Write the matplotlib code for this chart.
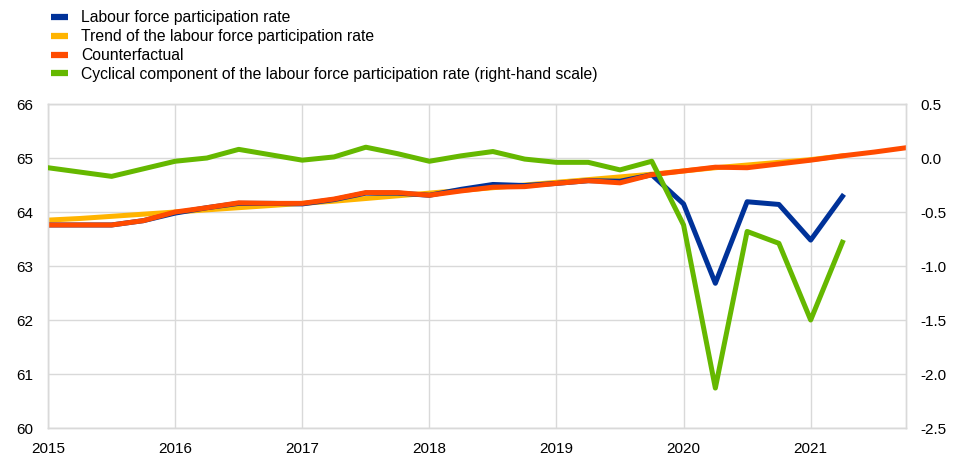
import numpy as np
import matplotlib.pyplot as plt
from matplotlib.lines import Line2D

plt.rcParams['font.family'] = ['Liberation Sans', 'DejaVu Sans']

# quarterly observations, 2015Q1 .. 2021Q4
quarters = 2015 + np.arange(28) * 0.25

lfpr = [63.76, 63.76, 63.76, 63.84, 63.98, 64.08, 64.16, 64.16, 64.15, 64.23,
        64.35, 64.35, 64.31, 64.42, 64.51, 64.49, 64.53, 64.58, 64.57, 64.69,
        64.15, 62.68, 64.19, 64.14, 63.48, 64.29]
trend = [63.85, 63.88, 63.92, 63.96, 64.00, 64.04, 64.08, 64.12, 64.16, 64.20,
         64.25, 64.30, 64.35, 64.40, 64.45, 64.50, 64.55, 64.60, 64.65, 64.70,
         64.76, 64.82, 64.87, 64.92, 64.97, 65.04]
counterfactual = [63.76, 63.76, 63.76, 63.84, 64.00, 64.08, 64.17, 64.16, 64.16, 64.24,
                  64.36, 64.36, 64.31, 64.39, 64.46, 64.47, 64.53, 64.58, 64.54, 64.69,
                  64.76, 64.83, 64.82, 64.89, 64.96, 65.04, 65.11, 65.19]
cyclical = [-0.09, -0.13, -0.17, -0.10, -0.03, 0.00, 0.08, 0.03, -0.02, 0.01,
            0.10, 0.04, -0.03, 0.02, 0.06, -0.01, -0.04, -0.04, -0.11, -0.03,
            -0.62, -2.13, -0.68, -0.79, -1.50, -0.78]

labels = ['Labour force participation rate',
          'Trend of the labour force participation rate',
          'Counterfactual',
          'Cyclical component of the labour force participation rate (right-hand scale)']
colors = ['#003299', '#FFB400', '#FF4B00', '#65B800']
years = list(range(2015, 2022))

fig = plt.figure(figsize=(9.55, 4.59), dpi=100)
ax = fig.add_axes([0.0503, 0.0675, 0.8984, 0.7059])
ax2 = ax.twinx()

lw = 3.6
ax.plot(quarters[:len(lfpr)], lfpr, color=colors[0], lw=lw, zorder=3)
ax.plot(quarters[:len(trend)], trend, color=colors[1], lw=lw, zorder=2)
ax.plot(quarters, counterfactual, color=colors[2], lw=lw, zorder=4)
ax2.plot(quarters[:len(cyclical)], cyclical, color=colors[3], lw=lw, zorder=5)

ax.set_xlim(2015, 2021.75)
ax.set_ylim(60, 66)
ax2.set_ylim(-2.5, 0.5)
ax.set_xticks(years)
ax.set_xticklabels([str(y) for y in years])
ax.set_yticks(range(60, 67))
r_ticks = np.arange(-2.5, 0.51, 0.5)
ax2.set_yticks(r_ticks)
ax2.set_yticklabels(['%.1f' % v for v in r_ticks])

grid_c = '#d9d9d9'
ax.grid(True, color=grid_c, lw=1)
ax.set_axisbelow(True)
for a in (ax, ax2):
    for s in a.spines.values():
        s.set_color(grid_c)
        s.set_linewidth(1)
    a.tick_params(length=0, labelsize=11, colors='#000000')
ax.tick_params(axis='x', pad=10)
ax.tick_params(axis='y', pad=11)
ax2.tick_params(axis='y', pad=10)

handles = [Line2D([], [], color=c, lw=4.5, solid_capstyle='butt') for c in colors]
fig.legend(handles, labels, loc='upper left', bbox_to_anchor=(0.043, 1.0),
           frameon=False, fontsize=11.3, handlelength=1.05, handletextpad=0.85,
           labelspacing=0.25, borderaxespad=0.25)

fig.savefig('out.png', dpi=100)
